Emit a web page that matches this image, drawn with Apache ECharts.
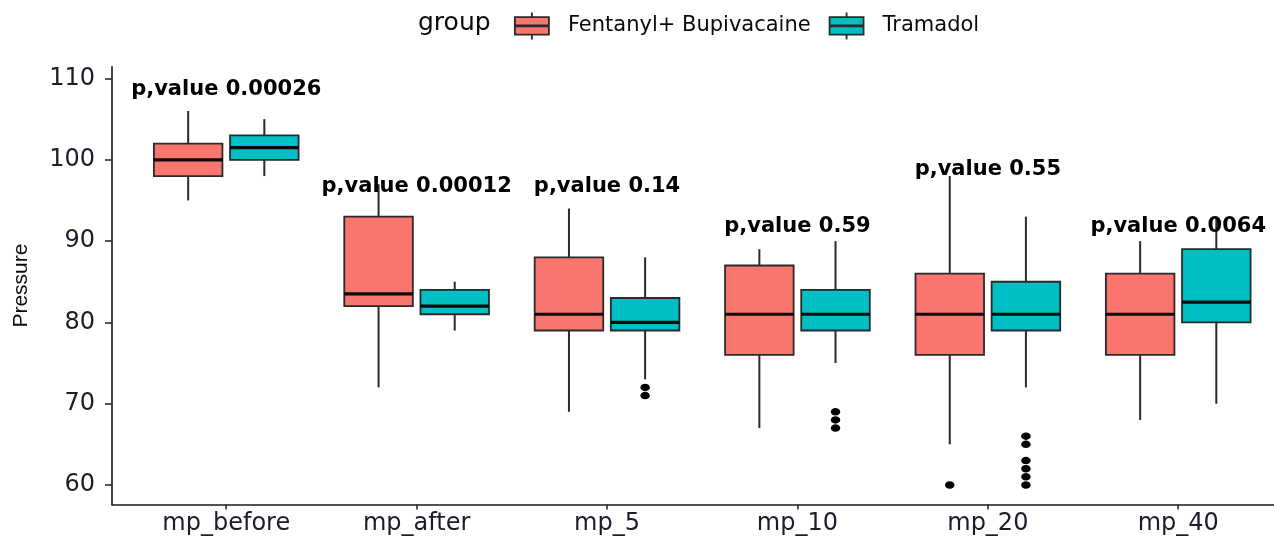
<!DOCTYPE html>
<html>
<head>
<meta charset="utf-8">
<script src="https://cdn.jsdelivr.net/npm/echarts@6/dist/echarts.min.js"></script>
<style>
  html, body { margin: 0; padding: 0; background: #ffffff; }
  #chart { width: 1274px; height: 538px; }
</style>
</head>
<body>
<div id="chart"></div>
<script>
// ---- data ----
const categories = ['mp_before', 'mp_after', 'mp_5', 'mp_10', 'mp_20', 'mp_40'];
const groupNames = ['Fentanyl+ Bupivacaine', 'Tramadol'];
// [lower whisker, Q1, median, Q3, upper whisker]
const fbBoxes = [
  [95, 98, 100, 102, 106],
  [72, 82, 83.5, 93, 97],
  [69, 79, 81, 88, 94],
  [67, 76, 81, 87, 89],
  [65, 76, 81, 86, 98],
  [68, 76, 81, 86, 90]
];
const trBoxes = [
  [98, 100, 101.5, 103, 105],
  [79, 81, 82, 84, 85],
  [73, 79, 80, 83, 88],
  [75, 79, 81, 84, 90],
  [72, 79, 81, 85, 93],
  [70, 80, 82.5, 89, 93]
];
const fbOutliers = [[], [], [], [], [60], []];
const trOutliers = [[], [], [72, 71], [69, 68, 67], [66, 65, 63, 62, 61, 60], []];
const pTexts = ['p,value 0.00026', 'p,value 0.00012', 'p,value 0.14', 'p,value 0.59', 'p,value 0.55', 'p,value 0.0064'];
const pLabelY = [108.65, 96.7, 96.7, 91.8, 98.75, 91.8];
const yTicks = [60, 70, 80, 90, 100, 110];

// ---- styling constants ----
const COLORS = ['#F8766D', '#00BFC4'];
const DODGE = 0.2;
const BOX_W = 0.36;
const LINE_COLOR = '#2a2a2a';

function boxData(boxes) {
  return boxes.map((b, i) => [i + 1].concat(b));
}
function outlierData(outs, offset) {
  const res = [];
  outs.forEach((arr, i) => arr.forEach(v => res.push([i + 1 + offset, v])));
  return res;
}
function makeRender(offset, color) {
  return function (params, api) {
    const xi = api.value(0);
    const lo = api.value(1), q1 = api.value(2), med = api.value(3), q3 = api.value(4), hi = api.value(5);
    const cx = api.coord([xi + offset, med])[0];
    const half = api.size([BOX_W, 0])[0] / 2;
    const yLo = api.coord([xi, lo])[1];
    const yQ1 = api.coord([xi, q1])[1];
    const yMed = api.coord([xi, med])[1];
    const yQ3 = api.coord([xi, q3])[1];
    const yHi = api.coord([xi, hi])[1];
    return {
      type: 'group',
      children: [
        { type: 'line', shape: { x1: cx, y1: yHi, x2: cx, y2: yQ3 }, style: { stroke: LINE_COLOR, lineWidth: 2 } },
        { type: 'line', shape: { x1: cx, y1: yQ1, x2: cx, y2: yLo }, style: { stroke: LINE_COLOR, lineWidth: 2 } },
        { type: 'rect', shape: { x: cx - half, y: yQ3, width: 2 * half, height: yQ1 - yQ3 },
          style: { fill: color, stroke: LINE_COLOR, lineWidth: 1.8 } },
        { type: 'line', shape: { x1: cx - half, y1: yMed, x2: cx + half, y2: yMed },
          style: { stroke: '#0a0a0a', lineWidth: 3.2 } }
      ]
    };
  };
}

const legendIcon = 'path://M0,4.7H34V22.3H0Z M0,13.1H34V13.9H0Z M17,0V4.7 M17,22.3V27';

const chart = echarts.init(document.getElementById('chart'), null, { renderer: 'canvas' });
const axisFont = '"DejaVu Sans", sans-serif';

chart.setOption({
  backgroundColor: '#ffffff',
  animation: false,
  graphic: [{
    type: 'text',
    x: 418,
    y: 23,
    style: {
      text: 'group',
      fontFamily: axisFont,
      fontSize: 25,
      fill: '#0a0a0a',
      verticalAlign: 'middle',
      align: 'left'
    }
  }],
  legend: {
    left: 514,
    top: 11.5,
    padding: 0,
    itemWidth: 34,
    itemHeight: 27,
    itemGap: 18,
    data: [
      { name: groupNames[0], icon: legendIcon, itemStyle: { color: COLORS[0], borderColor: LINE_COLOR, borderWidth: 1.8 } },
      { name: groupNames[1], icon: legendIcon, itemStyle: { color: COLORS[1], borderColor: LINE_COLOR, borderWidth: 1.8 } }
    ],
    textStyle: { fontFamily: axisFont, fontSize: 21, color: '#0a0a0a', padding: [0, 0, 0, 14] }
  },
  grid: { left: 112, right: 0, top: 66.7, bottom: 33.5, outerBoundsMode: 'none' },
  xAxis: {
    type: 'value',
    min: 0.4,
    max: 6.503,
    axisLine: { show: true, lineStyle: { color: '#1a1a1a', width: 1.6 } },
    axisTick: { show: true, length: 5, customValues: [1, 2, 3, 4, 5, 6], lineStyle: { color: '#2a2a2a', width: 1.6 } },
    axisLabel: {
      customValues: [1, 2, 3, 4, 5, 6],
      formatter: v => categories[Math.round(v) - 1] || '',
      fontFamily: axisFont, fontSize: 24, color: '#1c1c2a', margin: 7
    },
    splitLine: { show: false }
  },
  yAxis: {
    type: 'value',
    min: 57.6,
    max: 111.45,
    name: 'Pressure',
    nameLocation: 'middle',
    nameGap: 80,
    nameRotate: 90,
    nameTextStyle: { fontFamily: '"Liberation Sans", Arial, sans-serif', fontSize: 21, color: '#0a0a0a' },
    axisLine: { show: true, lineStyle: { color: '#1a1a1a', width: 1.6 } },
    axisTick: { show: true, length: 7, customValues: yTicks, lineStyle: { color: '#2a2a2a', width: 1.6 } },
    axisLabel: {
      customValues: yTicks,
      fontFamily: axisFont, fontSize: 24, color: '#1c1c2a', margin: 17
    },
    splitLine: { show: false }
  },
  series: [
    {
      name: groupNames[0], type: 'custom',
      itemStyle: { color: COLORS[0], borderColor: LINE_COLOR, borderWidth: 1.8 },
      renderItem: makeRender(-DODGE, COLORS[0]),
      encode: { x: 0, y: [1, 2, 3, 4, 5] },
      data: boxData(fbBoxes), z: 2
    },
    {
      name: groupNames[1], type: 'custom',
      itemStyle: { color: COLORS[1], borderColor: LINE_COLOR, borderWidth: 1.8 },
      renderItem: makeRender(DODGE, COLORS[1]),
      encode: { x: 0, y: [1, 2, 3, 4, 5] },
      data: boxData(trBoxes), z: 2
    },
    {
      name: 'outliers_fb', type: 'scatter', symbol: 'circle', symbolSize: [9.5, 7.5],
      itemStyle: { color: '#000000', opacity: 1 }, data: outlierData(fbOutliers, -DODGE), z: 3
    },
    {
      name: 'outliers_tr', type: 'scatter', symbol: 'circle', symbolSize: [9.5, 7.5],
      itemStyle: { color: '#000000', opacity: 1 }, data: outlierData(trOutliers, DODGE), z: 3
    },
    {
      name: 'pvalues', type: 'custom', z: 5,
      encode: { x: 0, y: 1 },
      data: pLabelY.map((y, i) => [i + 1, y]),
      renderItem: function (params, api) {
        const p = api.coord([api.value(0), api.value(1)]);
        return {
          type: 'text', x: p[0], y: p[1],
          style: {
            text: pTexts[params.dataIndex],
            fontFamily: axisFont, fontWeight: 'bold', fontSize: 21,
            fill: '#000000', align: 'center', verticalAlign: 'middle'
          }
        };
      }
    }
  ]
});
</script>
</body>
</html>
